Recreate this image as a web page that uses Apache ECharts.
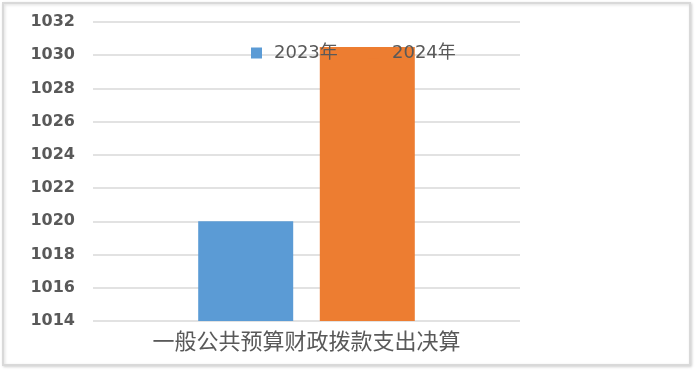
<!DOCTYPE html>
<html><head><meta charset="utf-8">
<script src="https://cdn.jsdelivr.net/npm/echarts@6/dist/echarts.min.js"></script>
<style>html,body{margin:0;padding:0;background:#fff;}#c{width:700px;height:372px;}</style>
</head><body><div id="c"></div>
<script>
const categories = ['一般公共预算财政拨款支出决算'];
const seriesNames = ['2023年', '2024年'];
const values2023 = [1020];
const values2024 = [1030.5];
const yMin = 1014, yMax = 1032, yStep = 2;

const chart = echarts.init(document.getElementById('c'));
chart.setOption({
  animation: false,
  graphic: [{
    type: 'rect', left: 2, top: 2, z: -10,
    shape: { width: 687, height: 362 },
    style: { fill: '#fff', stroke: '#d9d9d9', lineWidth: 2, shadowBlur: 3, shadowOffsetX: 1, shadowOffsetY: 1, shadowColor: 'rgba(0,0,0,0.15)' }
  }],
  legend: [
    { data: [seriesNames[0]], left: 246, top: 39, itemWidth: 11, itemHeight: 11, icon: 'rect',
      textStyle: { color: '#595959', fontSize: 18, fontFamily: 'DejaVu Sans, Noto Sans CJK SC', padding: [0,0,0,7] } },
    { data: [seriesNames[1]], left: 363, top: 39, itemWidth: 11, itemHeight: 11, icon: 'rect',
      textStyle: { color: '#595959', fontSize: 18, fontFamily: 'DejaVu Sans, Noto Sans CJK SC', padding: [0,0,0,8] } }
  ],
  grid: { left: 93, right: 180, top: 22, bottom: 51, containLabel: false },
  xAxis: {
    type: 'category', data: categories,
    axisLine: { show: false }, axisTick: { show: false },
    axisLabel: { color: '#595959', fontSize: 22, margin: 9, fontFamily: 'Noto Sans CJK SC' }
  },
  yAxis: {
    type: 'value', min: yMin, max: yMax, interval: yStep,
    axisLine: { show: false }, axisTick: { show: false },
    axisLabel: { color: '#595959', fontSize: 16, margin: 18, fontWeight: 'bold', fontFamily: 'DejaVu Sans', formatter: v => String(v) },
    splitLine: { lineStyle: { color: '#d9d9d9', width: 1.5 } }
  },
  series: [
    { name: seriesNames[0], type: 'bar', data: values2023, barWidth: 95, barGap: '28%', itemStyle: { color: '#5B9BD5' } },
    { name: seriesNames[1], type: 'bar', data: values2024, barWidth: 95, itemStyle: { color: '#ED7D31' } }
  ]
});
</script></body></html>
